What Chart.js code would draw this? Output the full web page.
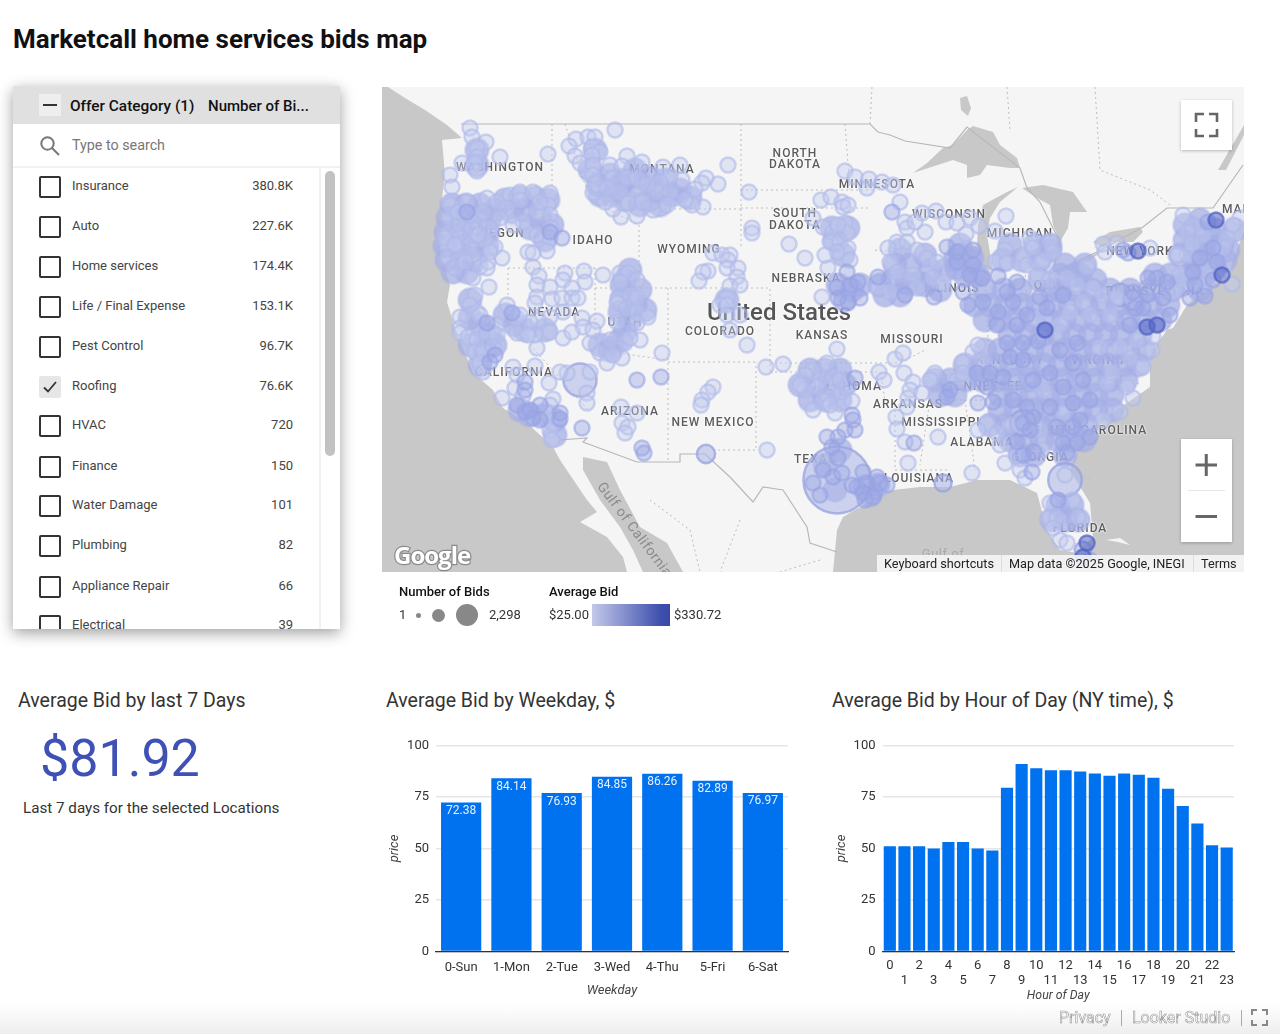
<!DOCTYPE html>
<html><head><meta charset="utf-8">
<script src="https://cdn.jsdelivr.net/npm/chart.js@4"></script>
<style>
html,body{margin:0;padding:0;background:#fff;width:1280px;height:1034px;overflow:hidden;font-family:Roboto,sans-serif}
.abs{position:absolute}
#title{left:13px;top:23px;font:700 26px/32px Roboto;color:#111;white-space:nowrap}
#panel{left:13px;top:86px;width:327px;height:543px;background:#fff;box-shadow:0 4px 14px rgba(0,0,0,.38);overflow:hidden}
#phead{left:0;top:0;width:327px;height:38px;background:#e0e0e0;font:500 15px/41px Roboto;color:#111}
.cb{position:absolute;left:26px;width:18px;height:18px;border:2px solid #333;border-radius:2px}
.row{position:absolute;left:0;width:307px;height:20px;font:400 13px/20px Roboto;color:#444}
.row .n{position:absolute;left:59px}
.row .v{position:absolute;right:27px;top:0}
#map{left:382px;top:87px;width:862px;height:485px;background:#c8c8c8;overflow:hidden}
#map canvas{position:absolute;left:0;top:0}
.lb{position:absolute;transform:translate(-50%,-50%);font:500 12px/12px Roboto;letter-spacing:1px;color:#5c5c5c;white-space:nowrap;text-align:center;text-shadow:0 0 2px #fff,0 0 2px #fff}
.btn{position:absolute;background:#fff;box-shadow:0 1px 3px rgba(0,0,0,.25)}
.h{position:absolute;white-space:nowrap}
</style></head><body>
<div id="title" class="abs">Marketcall home services bids map</div>

<div id="panel" class="abs">
  <div id="phead" class="abs">
    <div class="abs" style="left:26px;top:8px;width:22px;height:22px;background:#eeeeee"></div>
    <div class="abs" style="left:30px;top:18px;width:14px;height:2px;background:#333"></div>
    <span class="h" style="left:57px;top:0;font-size:15.4px">Offer Category (1)</span>
    <span class="h" style="left:195px;top:0">Number of Bi...</span>
  </div>
  <svg class="abs" style="left:26px;top:49px" width="22" height="22" viewBox="0 0 22 22"><circle cx="8.5" cy="8.5" r="6.2" fill="none" stroke="#777" stroke-width="2"/><line x1="13" y1="13" x2="20" y2="20" stroke="#777" stroke-width="2"/></svg>
  <span class="h" style="left:59px;top:49px;font:400 14.3px/20px Roboto;color:#777">Type to search</span>
  <div class="abs" style="left:0;top:80px;width:327px;height:2px;background:#f2f2f2"></div>
  <div class="abs" style="left:306px;top:82px;width:2px;height:461px;background:#f1f1f1"></div>
  <div class="abs" style="left:312px;top:85px;width:10px;height:285px;border-radius:5px;background:#c2c2c2"></div>
  <div id="rows"></div>
</div>

<div id="map" class="abs">
  <canvas id="baseMap" width="862" height="485"></canvas>
  <div id="labels"></div>
  <canvas id="bubbleMap" width="862" height="485"></canvas>
  <div class="h" style="left:12px;top:450px;font:700 24px/36px 'Open Sans';letter-spacing:-1px;color:#fff;-webkit-text-stroke:2.4px #8a8a8a;paint-order:stroke fill">Google</div>
  <div class="abs" style="left:495px;top:468px;width:367px;height:17px;background:rgba(245,245,245,.92);font:400 12.7px/18px Roboto;color:#222">
    <span class="h" style="left:7px">Keyboard shortcuts</span>
    <span class="abs" style="left:124px;top:0;width:1px;height:17px;background:#ddd"></span>
    <span class="h" style="left:132px">Map data ©2025 Google, INEGI</span>
    <span class="abs" style="left:316px;top:0;width:1px;height:17px;background:#ddd"></span>
    <span class="h" style="left:324px">Terms</span>
  </div>
  <div class="btn" style="left:799px;top:13px;width:51px;height:50px">
    <svg width="51" height="50" style="position:absolute;left:0;top:0"><path d="M15 22V14H23 M28 14H36V22 M36 29V36H28 M23 36H15V29" fill="none" stroke="#666" stroke-width="2.6"/></svg>
  </div>
  <div class="btn" style="left:799px;top:352px;width:51px;height:103px">
    <svg width="51" height="103" style="position:absolute;left:0;top:0"><path d="M14.500 26H36 M25.250 15V37" stroke="#666" stroke-width="3" fill="none"/><line x1="7" y1="51.500" x2="44" y2="51.500" stroke="#e6e6e6"/><path d="M14.500 77.500H36" stroke="#666" stroke-width="3"/></svg>
  </div>
</div>

<div class="abs" style="left:399px;top:584px;font:500 13px/16px Roboto;color:#111">Number of Bids</div>
<div class="abs" style="left:399px;top:607px;font:400 13px/16px Roboto;color:#333">1</div>
<div class="abs" style="left:416px;top:613px;width:5px;height:5px;border-radius:50%;background:#888"></div>
<div class="abs" style="left:432px;top:609px;width:13px;height:13px;border-radius:50%;background:#888"></div>
<div class="abs" style="left:456px;top:604px;width:22px;height:22px;border-radius:50%;background:#888"></div>
<div class="abs" style="left:489px;top:607px;font:400 13px/16px Roboto;color:#333">2,298</div>
<div class="abs" style="left:549px;top:584px;font:500 13px/16px Roboto;color:#111">Average Bid</div>
<div class="abs" style="left:549px;top:607px;font:400 13px/16px Roboto;color:#333">$25.00</div>
<div class="abs" style="left:592px;top:604px;width:78px;height:22px;background:linear-gradient(90deg,#c3c9e9,#3f4fae 88%,#3a49a8)"></div>
<div class="abs" style="left:674px;top:607px;font:400 13px/16px Roboto;color:#333">$330.72</div>

<div class="abs h" style="left:18px;top:689px;font:400 19.500px/24px Roboto;color:#333">Average Bid by last 7 Days</div>
<div class="abs h" style="left:40px;top:728px;font:400 52px/62px Roboto;color:#3f51b5">$81.92</div>
<div class="abs h" style="left:23px;top:798px;font:400 15.200px/20px Roboto;color:#333">Last 7 days for the selected Locations</div>
<div class="abs h" style="left:386px;top:689px;font:400 19.500px/24px Roboto;color:#333">Average Bid by Weekday, $</div>
<div class="abs h" style="left:832px;top:689px;font:400 19.500px/24px Roboto;color:#333">Average Bid by Hour of Day (NY time), $</div>

<canvas id="weekdayChart" class="abs" style="left:380px;top:735px" width="420" height="270"></canvas>
<canvas id="hourChart" class="abs" style="left:825px;top:735px" width="420" height="270"></canvas>

<div class="abs" style="left:0;top:1004px;width:1280px;height:30px;background:linear-gradient(rgba(240,240,240,0),rgba(236,236,236,.9))"></div>
<div class="abs h" style="left:1059px;top:1008px;font:400 16px/20px Roboto;color:#fff;-webkit-text-stroke:.6px #999">Privacy</div>
<div class="abs" style="left:1121px;top:1010px;width:1px;height:16px;background:#aaa"></div>
<div class="abs h" style="left:1132px;top:1008px;font:400 16px/20px Roboto;color:#fff;-webkit-text-stroke:.6px #999">Looker Studio</div>
<div class="abs" style="left:1241px;top:1010px;width:1px;height:16px;background:#aaa"></div>
<svg class="abs" style="left:1251px;top:1009px" width="17" height="17"><path d="M1 6V1H6 M11 1H16V6 M16 11V16H11 M6 16H1V11" fill="none" stroke="#888" stroke-width="2"/></svg>

<script>
// ---------- filter list ----------
const offerCategories = ["Insurance","Auto","Home services","Life / Final Expense","Pest Control","Roofing","HVAC","Finance","Water Damage","Plumbing","Appliance Repair","Electrical"];
const offerBids = ["380.8K","227.6K","174.4K","153.1K","96.7K","76.6K","720","150","101","82","66","39"];
const checkedCategory = "Roofing";

// ---------- bar charts ----------
const weekdays = ["0-Sun","1-Mon","2-Tue","3-Wed","4-Thu","5-Fri","6-Sat"];
const weekdayPrice = [72.38,84.14,76.93,84.85,86.26,82.89,76.97];
const hours = ["0","1","2","3","4","5","6","7","8","9","10","11","12","13","14","15","16","17","18","19","20","21","22","23"];
const hourPrice = [51.1,51.1,51.1,50,53.2,53.2,50,49,79.5,91,89,88,88,87.4,86.4,85.3,86.4,85.8,84.3,79,70.6,62.1,51.6,50.5];
const priceTicks = [0,25,50,75,100];

// ---------- map data: map-sheet coordinates of markets ----------
const lowBidMarkets = [
[470,128],[472,137],[486,142],[477,148],[477,157],[462,163],[475,163],[477,171],[500,157],[548,154],[450,175],[452,187],
[615,130],[576,139],[588,137],[595,137],[569,146],[592,147],[600,152],[575,156],[592,155],[580,163],[593,165],[610,165],[627,156],[642,162],[622,166],[663,167],[680,165],[728,165],[718,184],[706,178],[702,183],[695,189],[749,192],[703,207],[692,205],[685,200],[682,180],[670,177],[660,182],[657,192],[670,192],[667,205],[653,210],[637,216],[621,217],[613,209],[605,202],[593,193],[597,185],[593,175],[613,178],[627,178],[637,178],[620,192],[637,195],[628,203],[643,202],[647,185],[607,188],
[467,202],[487,198],[497,202],[510,195],[520,192],[533,192],[550,193],[548,205],[550,215],[520,200],[507,208],[523,222],[513,225],[500,218],[490,228],[480,222],[537,212],[540,202],[551,228],[550,238],[537,235],[547,251],[528,252],[533,253],[533,267],[539,276],
[451,205],[450,218],[450,232],[448,245],[448,258],[455,268],[460,225],[460,238],[460,252],[472,228],[472,242],[473,255],[480,267],[495,247],[502,258],[488,262],[487,268],[473,278],[489,287],[475,295],[470,305],[477,312],[458,212],[470,215],[483,212],[485,240],[465,262],[445,238],[455,245],[490,252],[478,235],
[565,273],[584,271],[563,280],[585,282],[572,288],[550,287],[537,285],[537,297],[552,299],[562,298],[572,298],[578,298],[535,303],[563,312],[550,317],[538,320],[530,322],[582,318],[583,327],[597,321],[603,275],[620,273],[628,273],[620,282],[637,280],[618,298],[630,295],[637,298],[617,303],[627,308],[637,312],[648,317],[617,322],[637,323],
[507,305],[517,318],[460,317],[460,328],[497,325],[480,315],[520,315],
[713,253],[722,255],[730,255],[728,260],[727,268],[738,268],[708,271],[703,272],[699,281],[737,277],[730,286],[740,285],[727,298],[720,305],[727,305],[727,315],[740,315],[752,228],[752,233],[789,244],[805,258],
[747,345],[730,330],[640,340],[662,353],[590,343],[563,338],[550,332],[537,348],[535,335],[572,332],[593,330],[600,353],[610,340],[607,363],[622,358],[625,343],[613,355],[630,338],
[567,373],[590,372],[587,393],[587,403],[560,372],[549,383],
[513,367],[535,366],[517,375],[515,388],[523,396],[502,398],[553,399],
[460,333],[468,337],[477,340],[487,333],[497,335],[475,352],[483,352],[480,363],[483,372],[493,347],[517,333],[528,335],
[553,423],[550,430],[552,440],[550,405],[547,413],
[621,407],[637,413],[622,423],[628,427],[625,433],[713,387],[708,392],[702,400],[701,405],[767,450],[766,367],[783,364],
[837,349],[827,363],[813,370],[820,380],[833,377],[843,392],[833,393],[823,400],[852,401],[813,410],[835,413],[830,405],[817,387],[840,380],[805,375],[805,390],[800,385],[879,372],[884,380],[895,359],[903,353],[904,373],[913,382],[910,390],[922,393],[908,398],[907,407],[896,417],[897,429],[905,442],[938,437],[908,463],[972,473],
[935,373],[930,380],[957,380],[963,362],[973,352],[978,345],[983,360],[963,373],[1107,383],[1043,390],[1063,413],
[987,423],[978,430],[997,433],[1000,445],[1012,425],[1040,430],[1005,463],[1017,455],[1042,450],[1020,470],[1025,478],
[1065,475],[1073,500],[1050,503],[1048,518],[1057,518],[1053,528],[1078,517],[1060,540],[1067,543],
[845,171],[855,177],[869,179],[867,188],[882,182],[893,185],[821,200],[831,197],[842,202],[843,207],[848,205],[813,218],[823,227],
[845,223],[833,232],[830,242],[840,242],[847,233],[848,248],[837,252],[850,260],[828,268],[822,297],[838,225],[825,255],
[900,202],[905,222],[922,213],[936,211],[925,232],[907,228],[915,222],[946,222],[957,223],[970,218],[979,226],[966,234],[1006,216],[995,231],
[897,242],[888,248],[907,242],[917,250],[927,258],[890,262],[937,262],[897,272],[913,275],[878,288],[890,292],[917,288],[933,278],[943,283],
[1005,250],[995,262],[1007,263],[1023,255],[1027,265],[1030,238],[1050,242],[1033,248],[1043,260],[1053,252],[1037,275],[1049,280],[1067,278],[1087,267],[1077,285],[1093,288],[1083,302],[1103,295],[1070,312],[1090,315],[1110,315],[1117,298],[1037,318],[1060,325],
[1103,244],[1105,252],[1117,243],[1150,248],[1178,255],[1183,215],[1193,225],[1240,218],[1233,225],[1187,232],[1203,235],[1227,238],[1223,248],[1187,255],[1177,255],[1232,284],[1203,285],[1183,288],[1173,292],[1180,275],[1192,244],[1208,270],
[1120,347],[1130,358],[1143,367],[1152,350],[1137,340],[1100,347],[1112,373],[1127,387],[1133,398],[1120,412],[1103,420],[1153,337]
];
const midBidMarkets = [
[467,212],[512,313],[562,238],[550,232],[487,323],[517,405],[525,412],[533,418],[540,405],[560,419],[560,413],[530,410],[540,420],[495,355],[490,362],
[525,382],[525,390],[582,428],[637,380],[661,377],[642,448],[644,453],[875,492],[855,378],[852,415],[853,420],
[832,447],[845,430],[838,437],[827,437],[855,430],[838,458],[833,477],[823,470],[842,473],[820,495],[813,483],[857,487],[867,483],[863,493],[877,477],[887,485],[873,497],[865,500],[852,485],[880,483],[863,472],
[914,443],[950,390],[947,397],[977,373],[990,373],[1003,377],[987,387],[978,403],[993,402],[1007,343],[1023,343],[1038,341],[1010,357],[1023,360],[1033,380],[1013,400],[1027,407],[1050,373],[1060,350],[1077,343],[1073,363],[1063,387],[1083,380],[1090,400],[1073,403],[1050,407],[1080,420],[1023,423],[1033,417],[1030,430],[1017,442],[1057,427],[1073,427],[1090,437],[1063,443],[1077,443],[1023,455],[1034,452],[1067,453],[1032,472],
[1058,500],[1090,560],
[892,212],[878,277],[905,295],[934,297],[968,305],[963,292],[947,247],[957,252],[973,250],[957,262],[973,265],[982,278],[970,275],[998,276],[1017,282],[1007,292],[983,302],[998,312],[1013,302],[1027,315],[1040,297],[1047,308],[1063,295],[997,325],[1017,325],
[1123,250],[1128,253],[1147,295],[1133,292],[1157,278],[1148,278],[1167,282],[1143,308],[1163,298],[1170,315],[1135,308],[1130,325],[860,298],[848,302],[838,298],[847,272],[837,287],[850,285],[858,282],
[1208,222],[1213,248],[1200,258],[1217,262],[1193,272],[1213,280],[1190,298],[1195,285],[1205,296]
];
const highBidMarkets = [
[1216,220],[1222,275],[1138,251],[1157,325],[1147,327],[1087,543],[1083,557],[1045,330]
];
const bigMarkets = [ // x, y, number of bids
[837,480,2298],[1065,480,570],[580,380,560],[1120,295,260],[706,454,170],[943,483,150],[1023,423,330],[1133,300,190],[1083,550,140]
];
const typicalBids = 115;
const denseMarketBids = 280;
const denseMarkets = [
[452,205],[466,205],[480,205],[448,218],[462,218],[476,218],[490,218],[446,232],[460,232],[474,232],[488,232],[445,246],[459,246],[473,246],[487,246],[447,260],[461,260],[475,260],[453,272],[467,272],
[477,150],[477,165],[595,150],[590,170],[598,185],[600,195],[625,180],[640,185],[660,190],[672,195],[650,200],[520,198],[535,198],[548,200],
[505,200],[495,210],[512,212],[525,210],[540,218],[552,225],[545,240],[530,228],[610,175],[620,185],[635,170],[650,178],[665,180],[680,190],[690,198],[612,195],[625,200],[640,205],[660,205],
[625,280],[622,300],[635,305],[630,320],[622,285],[630,270],[640,290],[620,312],[645,310],[600,345],[612,348],[625,332],
[470,345],[485,350],[480,365],[495,345],[470,318],[480,325],[490,335],[505,315],[515,325],[525,330],[545,330],[470,300],[530,415],[545,415],[520,410],[555,420],[555,435],[610,350],[620,340],[727,300],
[835,240],[843,255],[838,285],[852,290],[845,300],[860,285],[832,228],[848,228],
[880,285],[893,280],[907,283],[918,283],[885,295],[900,295],[900,250],[925,255],[895,265],[910,265],[930,270],[945,270],[925,285],[940,290],
[960,255],[972,258],[957,268],[975,275],
[1010,335],[1026,335],[1042,335],[1058,335],[1074,335],[1090,335],[1106,335],[1122,335],[1140,335],
[985,350],[1000,350],[1016,350],[1032,350],[1048,350],[1064,350],[1080,350],[1096,350],[1112,350],[1128,350],[1144,350],
[965,365],[980,365],[996,365],[1012,365],[1028,365],[1044,365],[1060,365],[1076,365],[1092,365],[1108,365],[1124,365],[1138,365],
[935,380],[950,380],[966,380],[982,380],[998,380],[1014,380],[1030,380],[1046,380],[1062,380],[1078,380],[1094,380],[1110,380],[1126,380],
[940,395],[955,395],[1000,395],[1016,395],[1032,395],[1048,395],[1064,395],[1080,395],[1096,395],[1112,395],
[1000,410],[1016,410],[1032,410],[1048,410],[1064,410],[1080,410],[1096,410],[1112,410],
[990,425],[1006,425],[1022,425],[1038,425],[1054,425],[1070,425],[1086,425],
[1010,440],[1026,440],[1042,440],[1058,440],[1072,440],[1084,440],[1020,455],[1034,455],[1065,455],
[1058,505],[1072,505],[1052,520],[1066,520],[1078,520],
[985,320],[1000,320],[1016,320],[1032,320],[1048,320],[1064,320],[1080,320],[1096,320],[1112,320],[1128,320],[1144,320],[1160,320],
[975,305],[990,305],[1006,305],[1022,305],[1038,305],[1054,305],[1070,305],[1086,305],[1102,305],[1118,305],[1134,305],[1150,305],[1168,305],
[985,290],[1004,290],[1020,290],[1060,290],[1076,290],[1092,290],[1110,290],[1130,290],[1150,290],[1172,290],
[965,275],[978,275],[1060,275],[1075,275],[1155,275],[1170,275],[1190,275],[1205,275],
[955,260],[970,260],[1003,260],[1022,260],[1040,260],[1195,260],[1212,260],[1225,260],
[960,245],[1010,245],[1035,245],[1050,245],[1205,245],[1222,245],[1195,230],[1215,230],[1235,230],
[1185,225],[1200,220],[1215,240],[1185,240],[1180,255],[1195,245],[1210,255],[1195,270],[1180,285],[1200,290],[1215,268],[1228,250],
[1050,250],[1065,265],[1080,275],[1095,280],[1040,280],[1052,290],[1085,265],
[810,370],[825,370],[840,370],[800,385],[815,385],[830,385],[845,385],[810,400],[825,400],[840,400],
[825,465],[840,450],[835,490],[865,487],[878,485],[870,495]
];

const landOutline = [[388,87],[1244,87],[1244,232],[1232,262],[1228,282],[1215,283],[1187,305],[1173,328],[1167,330],[1153,350],[1150,360],[1150,387],[1127,403],[1097,423],[1080,443],[1070,470],[1090,503],[1093,537],[1077,553],[1060,550],[1047,530],[1037,493],[1010,480],[977,480],[950,487],[920,487],[893,490],[867,503],[843,517],[837,530],[833,572],[627,572],[623,557],[607,537],[580,522],[597,512],[587,500],[560,460],[553,447],[527,423],[503,408],[493,390],[473,373],[455,328],[447,302],[450,285],[440,252],[442,198],[445,175],[442,140],[462,138],[447,125],[425,110],[405,98],[388,87]];
const gulfOfCalifornia = [[583,457],[607,462],[620,490],[640,527],[667,543],[683,572],[643,572],[633,550],[620,527],[600,500],[583,470]];
const lakeSuperior = [[913,173],[927,163],[943,148],[953,145],[967,130],[973,126],[993,132],[1000,145],[1017,158],[1020,168],[1010,168],[987,165],[980,175],[967,178],[967,165],[953,160]];
const lakeMichigan = [[978,225],[983,205],[1007,192],[1018,187],[1000,202],[990,218],[987,235],[993,272],[983,265],[977,245]];
const lakeHuron = [[1022,188],[1043,185],[1073,192],[1087,212],[1070,212],[1068,228],[1060,242],[1053,225],[1050,205],[1037,198]];
const lakeErie = [[1053,272],[1077,262],[1097,253],[1107,248],[1087,262],[1063,273]];
const lakeOntario = [[1093,242],[1110,232],[1140,227],[1143,232],[1133,242],[1110,242],[1103,248]];
const lakeWinnipeg = [[960,98],[967,96],[971,108],[968,116],[961,110]];
const stLawrence = [[1218,170],[1244,125],[1244,135],[1226,170]];
const bahamas = [[1106,540],[1120,538],[1130,545],[1118,542]];
const borderLines = [
 [[461,124],[870,124],[878,132],[890,135],[905,141],[950,148],[967,127],[1020,168],[1027,188],[1040,202],[1060,242],[1053,272],[1097,252],[1143,227],[1167,208],[1213,208],[1220,198],[1243,165]],
 [[560,440],[587,438],[583,442],[637,462],[680,462],[680,454],[705,454],[730,477],[753,502],[763,487],[783,490],[807,527],[810,543],[837,552]]
];
const dashedBorders = [
 [[552,124],[552,195]],[[565,124],[590,200],[639,225],[639,288]],[[741,124],[741,248]],[[639,209],[741,209]],[[741,208],[870,208]],[[741,190],[875,190]],[[845,124],[850,190]],[[595,288],[741,288]],[[508,268],[595,268]],[[508,268],[508,320],[590,412]],[[595,268],[595,350],[668,360]],[[668,288],[668,462]],[[668,362],[756,362]],[[713,450],[756,450],[756,362]],[[741,288],[770,288],[770,372]],[[770,372],[880,372],[885,400]],[[770,363],[900,363],[925,350]],[[875,250],[960,258]],[[895,400],[895,470],[950,470]],[[930,375],[1030,375]],[[930,400],[1030,400]],[[930,400],[920,465]],[[965,400],[975,470]],[[985,280],[990,375]],[[1025,270],[1030,345]],[[1095,290],[1160,290]],[[1095,290],[1105,345]],[[1100,350],[1140,385]],[[1030,440],[1090,480]],[[1095,87],[1100,170],[1150,190],[1170,205]],[[870,124],[872,87]],[[1007,87],[1010,130]],[[650,500],[690,530],[700,572]],[[740,520],[720,572]],[[820,560],[780,572]]
];

const stateLabels = [
 ["WASHINGTON",500,167],["MONTANA",662,169],["NORTH",795,153],["DAKOTA",795,164],["SOUTH",795,213],["DAKOTA",795,225],["MINNESOTA",877,184],["WISCONSIN",949,214],["MICHIGAN",1020,233],["OREGON",498,233],["IDAHO",593,240],["WYOMING",689,249],["NEBRASKA",806,278],["NEVADA",554,312],["UTAH",625,322],["COLORADO",720,331],["KANSAS",822,335],["MISSOURI",912,339],["ILLINOIS",952,288],["KENTUCKY",1010,360],["TENNESSEE",985,386],["VIRGINIA",1100,360],["PENNSYLVANIA",1155,291],["NEW YORK",1140,251],["OHIO",1050,285],["MAINE",1243,209],["CALIFORNIA",514,372],["ARIZONA",630,411],["NEW MEXICO",713,422],["TEXAS",815,459],["OKLAHOMA",845,386],["ARKANSAS",908,404],["MISSISSIPPI",941,422],["ALABAMA",982,442],["GEORGIA",1040,457],["SOUTH CAROLINA",1090,430],["LOUISIANA",919,478],["FLORIDA",1080,528]
];

// ---------- filter DOM ----------
const rowTops = [186.5,226.5,266.5,306.5,346,386.5,425.5,466,505.5,545.5,586,625.5];
const rows = document.getElementById('rows');
offerCategories.forEach((c,i)=>{
  const y = rowTops[i]-86;
  const on = c===checkedCategory;
  const box = document.createElement('div');
  box.className='cb';
  box.style.top=(y-10.5)+'px';
  if(on){box.style.border='2px solid #e6e6e6';box.style.background='#e6e6e6';
    box.innerHTML='<svg width="18" height="18" style="position:absolute;left:0;top:0"><path d="M3 9.500L7 13.500L15 4" fill="none" stroke="#333" stroke-width="1.800"/></svg>';}
  rows.appendChild(box);
  const r = document.createElement('div');
  r.className='row'; r.style.top=(y-10.5)+'px';
  r.innerHTML='<span class="n">'+c+'</span><span class="v">'+offerBids[i]+'</span>';
  rows.appendChild(r);
});

// ---------- map labels DOM ----------
const labels = document.getElementById('labels');
function addLabel(text,x,y,extra){
  const d=document.createElement('div'); d.className='lb'; d.textContent=text;
  d.style.left=(x-382)+'px'; d.style.top=(y-87)+'px';
  if(extra) d.style.cssText+=';'+extra;
  labels.appendChild(d);
}
stateLabels.forEach(l=>addLabel(l[0],l[1],l[2]));
addLabel("United States",779,312,"font:500 24px/24px Roboto;letter-spacing:0;color:#555");
addLabel("Gulf of California",635,529,"font:400 14px/14px Roboto;letter-spacing:.5px;color:#8a8a8a;transform:translate(-50%,-50%) rotate(53deg);text-shadow:none");
addLabel("Gulf of",943,553,"font:400 13px/13px Roboto;letter-spacing:.5px;color:#aaa;text-shadow:none");

// ---------- map base (Chart.js) ----------
const mapScales = {
  x:{type:'linear',min:382,max:1244,display:false},
  y:{type:'linear',min:87,max:572,reverse:true,display:false}
};
const polygonFill = {
  id:'polygonFill',
  beforeDatasetDraw(chart,args){
    const ds = chart.data.datasets[args.index];
    if(!ds.polygonColor) return;
    const ctx=chart.ctx, pts=args.meta.data;
    ctx.save(); ctx.beginPath();
    pts.forEach((p,i)=> i?ctx.lineTo(p.x,p.y):ctx.moveTo(p.x,p.y));
    ctx.closePath(); ctx.fillStyle=ds.polygonColor; ctx.fill(); ctx.restore();
  }
};
const toXY = a => a.map(p=>({x:p[0],y:p[1]}));
const polygon = (pts,color,border)=>({type:'scatter',data:toXY(pts),polygonColor:color,showLine:!!border,borderColor:border||color,borderWidth:border?1:0,pointRadius:0});
const baseSets = [
  polygon(landOutline,'#f5f5f5'),
  polygon(lakeSuperior,'#c8c8c8'),polygon(lakeMichigan,'#c8c8c8'),polygon(lakeHuron,'#c8c8c8'),polygon(lakeErie,'#c8c8c8'),polygon(lakeOntario,'#c8c8c8'),polygon(lakeWinnipeg,'#c8c8c8'),polygon(stLawrence,'#c8c8c8'),polygon(gulfOfCalifornia,'#c8c8c8'),polygon(bahamas,'#f5f5f5'),
  ...dashedBorders.map(l=>({type:'scatter',data:toXY(l),showLine:true,borderColor:'#bdbdbd',borderWidth:1,borderDash:[2,3],pointRadius:0})),
  ...borderLines.map(l=>({type:'scatter',data:toXY(l),showLine:true,borderColor:'#b8b8b8',borderWidth:1.2,pointRadius:0}))
];
baseSets.forEach((d,i)=>d.order=baseSets.length-i);
new Chart(document.getElementById('baseMap'),{
  type:'scatter',data:{datasets:baseSets},plugins:[polygonFill],
  options:{responsive:false,animation:false,events:[],layout:{padding:0,autoPadding:false},scales:mapScales,plugins:{legend:{display:false},tooltip:{enabled:false}}}
});

// ---------- bubbles (Chart.js) ----------
const radiusOf = bids => 0.7*Math.sqrt(bids);
const bubbleSet = (pts,fill,ring,bids)=>({data:pts.map(p=>({x:p[0],y:p[1],r:radiusOf(p[2]||bids||typicalBids)})),backgroundColor:fill,borderColor:ring,borderWidth:2.5});
const bubbleSets = [
  bubbleSet(denseMarkets,'rgba(166,176,229,.74)','rgba(166,176,229,.35)',denseMarketBids),
  bubbleSet(bigMarkets,'rgba(176,186,232,.6)','rgba(150,162,224,.75)'),
  bubbleSet(lowBidMarkets,'rgba(194,202,238,.42)','rgba(176,185,233,.62)'),
  bubbleSet(midBidMarkets,'rgba(156,168,228,.42)','rgba(152,164,226,.6)'),
  bubbleSet(highBidMarkets,'rgba(84,100,196,.55)','rgba(84,100,196,.75)')
];
bubbleSets.forEach((d,i)=>d.order=bubbleSets.length-i);
new Chart(document.getElementById('bubbleMap'),{
  type:'bubble',data:{datasets:bubbleSets},
  options:{responsive:false,animation:false,events:[],layout:{padding:0,autoPadding:false},scales:{x:{...mapScales.x},y:{...mapScales.y}},plugins:{legend:{display:false},tooltip:{enabled:false}}}
});

// ---------- bar charts ----------
const valueLabels = {
  id:'valueLabels',
  afterDatasetsDraw(chart){
    if(!chart.options.plugins.valueLabels.show) return;
    const ctx=chart.ctx, meta=chart.getDatasetMeta(0), vals=chart.data.datasets[0].data;
    ctx.save(); ctx.fillStyle='#e8f1ff'; ctx.font='12px Roboto'; ctx.textAlign='center'; ctx.textBaseline='middle';
    meta.data.forEach((b,i)=>ctx.fillText(vals[i].toFixed(2),b.x,b.y+8.500));
    ctx.restore();
  }
};
function barChart(id,labelsArr,values,xTitle,opts){
  return new Chart(document.getElementById(id),{
    type:'bar',
    data:{labels:labelsArr,datasets:[{data:values,backgroundColor:'#0072f0',borderColor:'#0072f0',borderWidth:0,categoryPercentage:1,barPercentage:opts.bar}]},
    plugins:[valueLabels],
    options:{
      responsive:false,animation:false,events:[],
      layout:{autoPadding:false,padding:{top:10.500,right:opts.right,left:0,bottom:0}},
      plugins:{legend:{display:false},tooltip:{enabled:false},valueLabels:{show:opts.labels}},
      scales:{
        y:{min:0,max:100,afterBuildTicks(s){s.ticks=priceTicks.map(v=>({value:v}));},
           afterFit(s){s.width=opts.left;s.paddingTop=0;s.paddingBottom=0;},
           ticks:{font:{family:'Roboto',size:13},color:'#333',padding:7},
           grid:{color:'#e6e6e6',lineWidth:1.500,drawTicks:false},border:{display:false},
           title:{display:true,text:'price',font:{family:'Roboto',size:13,style:'italic'},color:'#444',padding:{top:opts.titleL,bottom:0}}},
        x:{afterFit(s){s.height=53.500;s.paddingLeft=0;s.paddingRight=0;},
           ticks:{font:{family:'Roboto',size:13},color:'#333',autoSkip:false,maxRotation:0,padding:opts.tickPad,callback:opts.tickCb},
           grid:{display:false,drawTicks:false},border:{color:'#333',width:1.200},
           title:{display:true,text:xTitle,font:{family:'Roboto',size:opts.xTitleSize,style:'italic'},color:'#444',padding:{top:0,bottom:opts.titleB}}}
      }
    }
  });
}
barChart('weekdayChart',weekdays,weekdayPrice,'Weekday',{bar:.8,left:56,right:12,labels:true,tickPad:8,titleL:7,titleB:6,xTitleSize:13,
  tickCb(v){return weekdays[v];}});
barChart('hourChart',hours,hourPrice,'Hour of Day',{bar:.83,left:57.500,right:11,labels:false,tickPad:6,titleL:9,titleB:2,xTitleSize:12.3,
  tickCb(v){return Number(hours[v])%2?['',hours[v]]:[hours[v]];}});
</script>
</body></html>
